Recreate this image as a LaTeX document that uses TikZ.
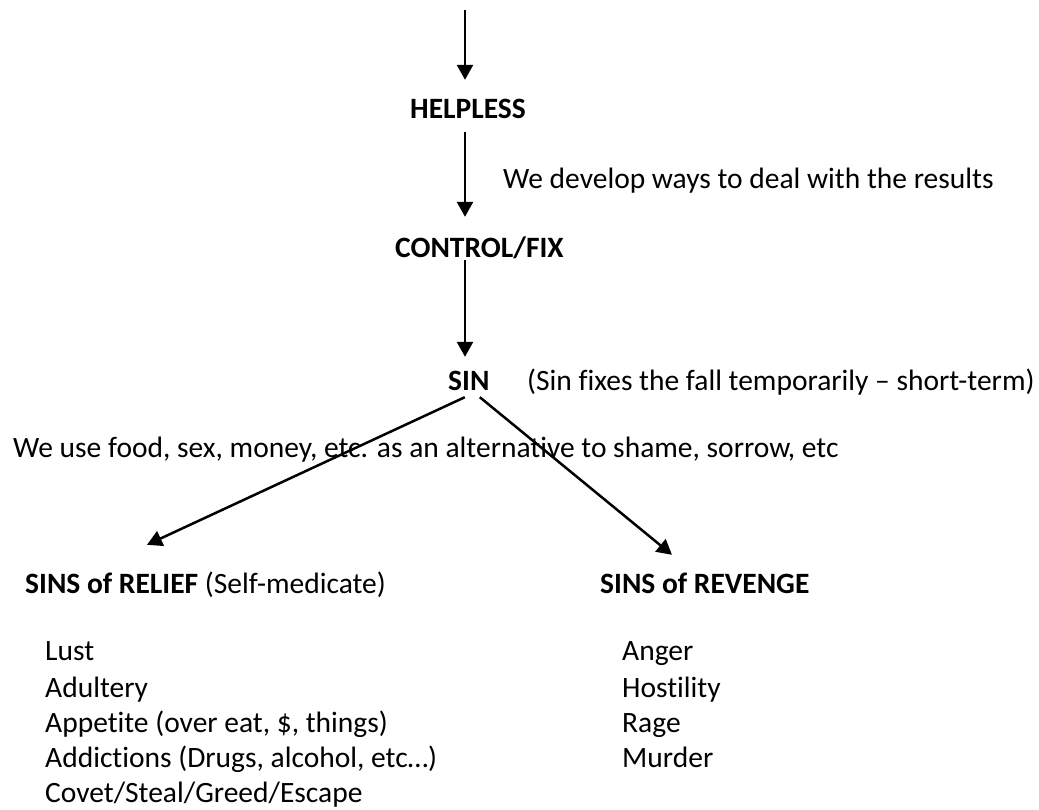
\documentclass[tikz,border=0pt]{standalone}
\usepackage{fontspec}
\setmainfont{Carlito}[Ligatures=NoCommon]
\usetikzlibrary{arrows.meta,calc}
\begin{document}
\begin{tikzpicture}[x=1pt,y=-1pt,
  txt/.style={anchor=base west,inner sep=0pt,font=\fontsize{29.5}{35}\selectfont,text height=19pt,text depth=0pt},
  ttl/.style={txt,font=\fontsize{29.5}{35}\selectfont\bfseries},
  arr/.style={line width=2.5pt,-{Triangle[length=15pt,width=16pt]}}]
\useasboundingbox[fill=white] (0,0) rectangle (1039,809);
% main column
\coordinate (top) at (465,10);
\node[ttl] (helpless) at (410,118) {HELPLESS};
\node[txt] (develop) at (503,188) {We develop ways to deal with the results};
\node[ttl] (control) at (395,257) {CONTROL/FIX};
\node[ttl] (sin) at (448,390) {SIN};
\node[txt] (fixes) at (527,390) {(Sin fixes the fall temporarily – short-term)};
\node[txt] (use) at (13,457) {We use food, sex, money, etc. as an alternative to shame, sorrow, etc};
% branches
\node[txt] (relief) at (25,593) {\textbf{SINS of RELIEF} (Self-medicate)};
\node[ttl] (revenge) at (600,593) {SINS of REVENGE};
% relief list
\node[txt] (lust) at (45,660) {Lust};
\node[txt] (adultery) at (45,697) {Adultery};
\node[txt] (appetite) at (45,732) {Appetite (over eat, \$, things)};
\node[txt] (addictions) at (45,767) {Addictions (Drugs, alcohol, etc…)};
\node[txt] (covet) at (45,802) {Covet/Steal/Greed/Escape};
% revenge list
\node[txt] (anger) at (622,660) {Anger};
\node[txt] (hostility) at (622,697) {Hostility};
\node[txt] (rage) at (622,732) {Rage};
\node[txt] (murder) at (622,767) {Murder};
% connectors
\draw[arr] (top) -- ($(helpless.north -| top)+(0,-19)$);
\draw[arr] ($(helpless.south -| top)+(0,14)$) -- ($(control.north -| top)+(0,-21)$);
\draw[arr] ($(control.south -| top)+(0,3)$) -- ($(sin.north -| top)+(0,-14)$);
\draw[arr] ($(sin.south)+(-4,7)$) -- ($(relief.north west)+(122,-29)$);
\draw[arr] ($(sin.south)+(11,7)$) -- ($(revenge.north west)+(72,-19)$);
\end{tikzpicture}
\end{document}
